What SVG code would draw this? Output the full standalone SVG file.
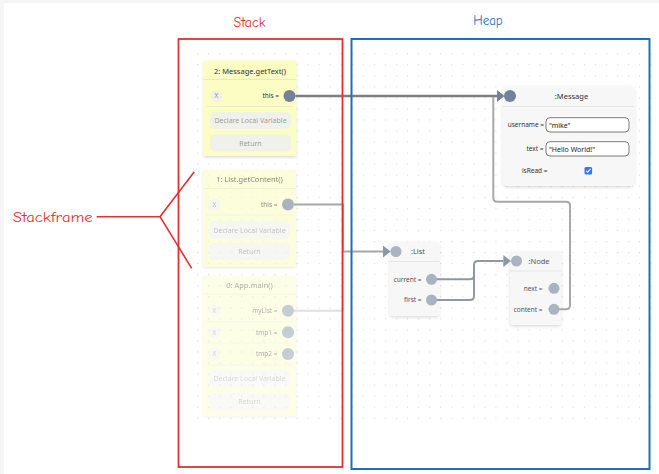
<svg xmlns="http://www.w3.org/2000/svg" width="659" height="474" viewBox="0 0 659 474">
<style>
.t{font-family:"Noto Sans","Open Sans","DejaVu Sans",sans-serif;fill:#333}
.title{font-size:7.5px;text-anchor:middle}
.lbl{font-size:6.5px;text-anchor:end}
.btn{fill:#f1f1ec}
.btnt{font-size:7px;text-anchor:middle;fill:#9d9d9d}
.xb{fill:#f1f1e4}
.xt{font-size:6.5px;text-anchor:middle;fill:#8a8ea8}
.frame{fill:#fbfdc3}
.hsep{stroke:#e9eab8;stroke-width:1}
.rsep{stroke:#e6e6cc;stroke-width:0.8}
.dot{fill:#738298}
.ldot{fill:#a9b3c1}
.node{fill:#f7f7f7}
.nsep{stroke:#e6e6e6;stroke-width:1}
.inp{fill:#fff;stroke:#5a5a5a;stroke-width:0.8}
.it{font-size:7px;fill:#222}
.hand{font-family:"Comic Neue","Noto Sans","DejaVu Sans",sans-serif}
.conn{fill:none;stroke-linejoin:round}
</style>
<defs>
<pattern id="grid" x="9.2" y="8.9" width="11.05" height="11.05" patternUnits="userSpaceOnUse">
<circle cx="0.6" cy="0.6" r="0.6" fill="#d4d4d4"/>
</pattern>
<filter id="sh" x="-20%" y="-20%" width="140%" height="140%">
<feDropShadow dx="0" dy="1.5" stdDeviation="1.8" flood-color="#000" flood-opacity="0.14"/>
</filter>
<marker id="arS" markerUnits="userSpaceOnUse" markerWidth="8" markerHeight="12" viewBox="0 0 7 11" refX="0" refY="5.5" orient="auto">
<path d="M0,0 L7,5.5 L0,11 z" fill="#738298"/>
</marker>
<marker id="arL" markerUnits="userSpaceOnUse" markerWidth="8" markerHeight="12" viewBox="0 0 7 11" refX="0" refY="5.5" orient="auto">
<path d="M0,0 L7,5.5 L0,11 z" fill="#8c97a7"/>
</marker>
</defs>
<rect x="0" y="0" width="659" height="474" fill="#fff"/>
<rect x="0" y="0" width="659" height="3" fill="#f4f4f4"/>
<rect x="0" y="0" width="4" height="474" fill="#f6f6f6"/>
<rect x="190" y="48" width="465" height="380" fill="url(#grid)"/>

<g id="frame2">
<rect class="frame" x="203.5" y="60.5" width="93" height="95.5" filter="url(#sh)"/>
<text class="t title" x="250" y="73.5">2: Message.getText()</text>
<line class="hsep" x1="203.5" y1="79.5" x2="296.5" y2="79.5"/>
<circle class="xb" cx="216.5" cy="96" r="6"/>
<text class="t xt" x="216.5" y="98.3">X</text>
<text class="t lbl" x="279" y="98.3">this =</text>
<circle class="dot" cx="289.5" cy="96" r="6"/>
<line class="rsep" x1="207" y1="106.5" x2="293" y2="106.5"/>
<rect class="btn" x="210" y="112" width="81" height="17" rx="5"/>
<text class="t btnt" x="250.5" y="123">Declare Local Variable</text>
<rect class="btn" x="210" y="134.5" width="81" height="17" rx="5"/>
<text class="t btnt" x="250.5" y="145.5">Return</text>
</g>

<g id="frame1" opacity="0.6">
<rect class="frame" x="203" y="169.5" width="93" height="97" filter="url(#sh)"/>
<text class="t title" x="249.5" y="182">1: List.getContent()</text>
<line class="hsep" x1="203" y1="188.5" x2="296" y2="188.5"/>
<circle class="xb" cx="214.5" cy="204.5" r="6"/>
<text class="t xt" x="214.5" y="206.8">X</text>
<text class="t lbl" x="277.5" y="206.8">this =</text>
<circle class="dot" cx="288" cy="204.5" r="6"/>
<line class="rsep" x1="206" y1="215" x2="293" y2="215"/>
<rect class="btn" x="209" y="221" width="81" height="18" rx="5"/>
<text class="t btnt" x="249.5" y="232.5">Declare Local Variable</text>
<rect class="btn" x="209" y="243" width="81" height="17" rx="5"/>
<text class="t btnt" x="249.5" y="254">Return</text>
</g>

<g id="frame0" opacity="0.4">
<rect class="frame" x="203" y="275.5" width="93" height="140" filter="url(#sh)"/>
<text class="t title" x="249.5" y="288">0: App.main()</text>
<line class="hsep" x1="203" y1="294" x2="296" y2="294"/>
<circle class="xb" cx="214.5" cy="310.7" r="6"/>
<text class="t xt" x="214.5" y="313">X</text>
<text class="t lbl" x="277.5" y="313">myList =</text>
<circle class="dot" cx="288" cy="310.7" r="6"/>
<line class="rsep" x1="206" y1="321.7" x2="293" y2="321.7"/>
<circle class="xb" cx="214.5" cy="332.3" r="6"/>
<text class="t xt" x="214.5" y="334.6">X</text>
<text class="t lbl" x="277.5" y="334.6">tmp1 =</text>
<circle class="dot" cx="288" cy="332.3" r="6"/>
<line class="rsep" x1="206" y1="343" x2="293" y2="343"/>
<circle class="xb" cx="214.5" cy="354" r="6"/>
<text class="t xt" x="214.5" y="356.3">X</text>
<text class="t lbl" x="277.5" y="356.3">tmp2 =</text>
<circle class="dot" cx="288" cy="354" r="6"/>
<line class="rsep" x1="206" y1="365" x2="293" y2="365"/>
<rect class="btn" x="209" y="370" width="81" height="17.5" rx="5"/>
<text class="t btnt" x="249.5" y="381.3">Declare Local Variable</text>
<rect class="btn" x="209" y="393" width="81" height="17.5" rx="5"/>
<text class="t btnt" x="249.5" y="404.3">Return</text>
</g>

<g id="message">
<rect class="node" x="502.5" y="85.5" width="132" height="100.5" rx="5" filter="url(#sh)"/>
<text class="t title" x="571.5" y="98.6">:Message</text>
<line class="nsep" x1="502.5" y1="106.5" x2="634.5" y2="106.5"/>
<text class="t lbl" x="544" y="127.3">username =</text>
<rect class="inp" x="546" y="117.7" width="83" height="14.3" rx="4"/>
<text class="t it" x="549" y="127.6">"mike"</text>
<text class="t lbl" x="543.5" y="150.6">text =</text>
<rect class="inp" x="546" y="141.7" width="83" height="14.3" rx="4"/>
<text class="t it" x="549" y="151.6">"Hello World!"</text>
<text class="t lbl" x="547.5" y="173">isRead =</text>
<rect x="584.5" y="166.9" width="7.6" height="7.6" rx="1.5" fill="#2f7be0"/>
<path d="M586.2,170.8 L587.7,172.3 L590.5,168.9" fill="none" stroke="#fff" stroke-width="1.1"/>
</g>

<g id="list">
<rect class="node" x="389.5" y="241.5" width="50" height="74.5" rx="4" filter="url(#sh)"/>
<text class="t title" x="418" y="254" style="fill:#555">:List</text>
<line class="nsep" x1="389.5" y1="261.5" x2="439.5" y2="261.5"/>
<text class="t lbl" x="421.5" y="281.6" style="fill:#555">current =</text>
<text class="t lbl" x="421.5" y="302.3" style="fill:#555">first =</text>
</g>

<g id="nodeobj">
<rect class="node" x="510" y="251" width="51.5" height="74" rx="4" filter="url(#sh)"/>
<text class="t title" x="539" y="263.5" style="fill:#555">:Node</text>
<line class="nsep" x1="510" y1="271" x2="561.5" y2="271"/>
<text class="t lbl" x="542.5" y="290.6" style="fill:#555">next =</text>
<text class="t lbl" x="542.5" y="311.6" style="fill:#555">content =</text>
</g>

<g id="connectors">
<path class="conn" d="M554,309.3 H566 Q570,309.3 570,305.3 V205.7 Q570,201.7 566,201.7 H497.3 Q493.3,201.7 493.3,197.7 V96" stroke="#a8a8a8" stroke-width="2"/>
<path class="conn" d="M295.5,96 H497" stroke="#7f7f7f" stroke-width="2.3" marker-end="url(#arS)"/>
<path class="conn" d="M294,310.7 H343 V251.5" stroke="#e0e0e0" stroke-width="2"/>
<path class="conn" d="M294,204.5 H343 V251.5 H383" stroke="#a8a8a8" stroke-width="2" marker-end="url(#arL)"/>
<path class="conn" d="M431.5,279.3 H470 Q474,279.3 474,275.3 V265 Q474,261 478,261 H503.3" stroke="#8f98a4" stroke-width="2" marker-end="url(#arL)"/>
<path class="conn" d="M431.5,300 H470 Q474,300 474,296 V265" stroke="#8f98a4" stroke-width="2"/>
</g>

<g id="ports">
<circle class="dot" cx="510" cy="96" r="6"/>
<circle class="ldot" cx="396" cy="251.5" r="5.5"/>
<circle class="ldot" cx="431.5" cy="279.3" r="5.5"/>
<circle class="ldot" cx="431.5" cy="300" r="5.5"/>
<circle class="ldot" cx="516.5" cy="261" r="5.5"/>
<circle class="ldot" cx="554" cy="288.3" r="5.5"/>
<circle class="ldot" cx="554" cy="309.3" r="5.5"/>
</g>

<g id="stack-box">
<rect x="178.5" y="39" width="164" height="428" fill="none" stroke="#e03131" stroke-width="1.8"/>
<text class="hand" x="249.5" y="27" font-size="14" text-anchor="middle" fill="#e03131">Stack</text>
</g>
<g id="heap-box">
<rect x="351.5" y="39" width="298" height="430" fill="none" stroke="#1971c2" stroke-width="2"/>
<text class="hand" x="488" y="25" font-size="13" text-anchor="middle" fill="#1971c2">Heap</text>
</g>
<g id="stackframe-note">
<text class="hand" x="12.7" y="221.5" font-size="13" fill="#e03131" textLength="80" lengthAdjust="spacingAndGlyphs">Stackframe</text>
<path d="M96.7,216.7 H160 M160,216.7 L194.3,171.7 M160,216.7 L191.7,268.3" fill="none" stroke="#e03131" stroke-width="1.6"/>
</g>
</svg>
